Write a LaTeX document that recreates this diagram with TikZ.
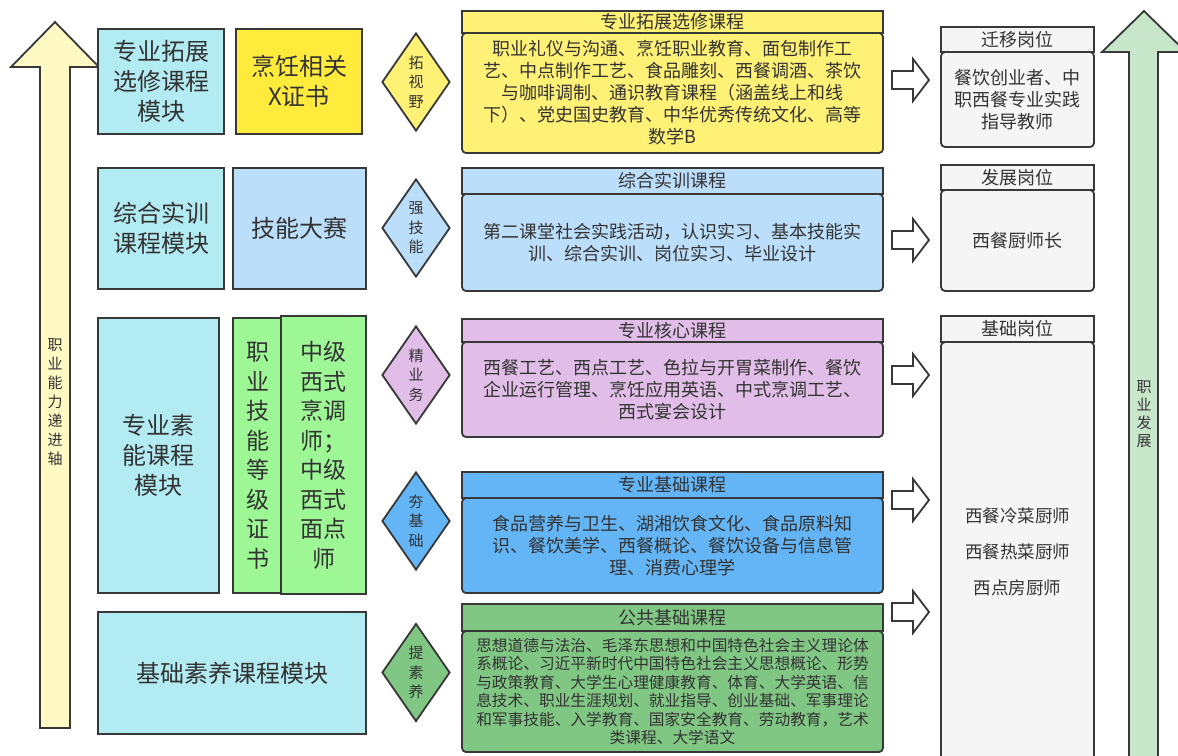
\documentclass[tikz,border=0pt]{standalone}
\usepackage{fontspec}
\setmainfont{Noto Sans CJK SC}
\usetikzlibrary{shapes.geometric}
\definecolor{strokec}{HTML}{383838}
\definecolor{textc}{HTML}{333333}
\definecolor{modc}{HTML}{B2EBF2}
\definecolor{xcert}{HTML}{FFEB3B}
\definecolor{yelc}{HTML}{FFF176}
\definecolor{bluec}{HTML}{BBDEFB}
\definecolor{greenc}{HTML}{9CF794}
\definecolor{purc}{HTML}{E1BEE7}
\definecolor{midblue}{HTML}{64B5F6}
\definecolor{midgreen}{HTML}{81C784}
\definecolor{postc}{HTML}{F5F5F5}
\definecolor{leftarr}{HTML}{FFF9C4}
\definecolor{rightarr}{HTML}{C8E6C9}
\newcommand\myfs[2]{\fontsize{#1}{#2}\selectfont}
\newcommand\hollowarr[1]{\draw[arrowline] (892,#1-9) -- (913,#1-9) -- (913,#1-21) -- (929,#1) -- (913,#1+21) -- (913,#1+9) -- (892,#1+9) -- cycle;}
\tikzset{
  base/.style={draw=strokec, line width=1.8pt, inner sep=0pt, text=textc, align=center},
  modbox/.style={base, rectangle, fill=modc, font=\myfs{24}{30}},
  certbox/.style={base, rectangle, font=\myfs{24}{30}},
  dia/.style={base, diamond, aspect=0.7, minimum width=68pt, minimum height=98pt, font=\myfs{15}{19.5}},
  headbox/.style={base, rectangle, minimum width=421pt, font=\myfs{18}{22}},
  bodybox/.style={base, rectangle, rounded corners=4pt, minimum width=421pt, font=\myfs{18}{22}},
  posthead/.style={base, rectangle, fill=postc, minimum width=153pt, font=\myfs{18}{22}},
  postbody/.style={base, rectangle, rounded corners=4pt, fill=postc, minimum width=153pt, font=\myfs{18}{21.7}},
  arrowline/.style={draw=strokec, line width=1.8pt, fill=white, line join=miter},
  bigarrow/.style={draw=strokec, line width=1.8pt, line join=miter},
  axislabel/.style={text=textc, align=center, inner sep=0pt, font=\myfs{15}{19}}
}
\begin{document}
\begin{tikzpicture}[x=1pt,y=-1pt]
\useasboundingbox (0,0) rectangle (1178,755);
\clip (0,0) rectangle (1178,755);
\fill[white] (0,0) rectangle (1178,755);

% left axis arrow
\draw[bigarrow, fill=leftarr] (40,728) -- (40,67) -- (11,67) -- (55,22) -- (99,67) -- (70,67) -- (70,728) -- cycle;
\node[axislabel] (leftlab) at (55,402) {职\\业\\能\\力\\递\\进\\轴};

% right axis arrow
\draw[bigarrow, fill=rightarr] (1129,800) -- (1129,52) -- (1102,52) -- (1144,11) -- (1186,52) -- (1158,52) -- (1158,800) -- cycle;
\node[axislabel, font=\myfs{15}{18}] (rightlab) at (1144,414) {职\\业\\发\\展};

% modules
\node[modbox, minimum width=126pt, minimum height=105pt] (mod1) at (161,81.5) {专业拓展\\选修课程\\模块};
\node[certbox, fill=xcert, minimum width=126pt, minimum height=105pt] (cert1) at (299,81.5) {烹饪相关\\X证书};
\node[dia, fill=yelc] (dia1) at (416,82) {拓\\视\\野};

\node[modbox, minimum width=126pt, minimum height=121pt] (mod2) at (161,228.5) {综合实训\\课程模块};
\node[certbox, fill=bluec, minimum width=133pt, minimum height=121pt] (cert2) at (299.5,228.5) {技能大赛};
\node[dia, fill=bluec] (dia2) at (416,228) {强\\技\\能};

\node[modbox, minimum width=121pt, minimum height=275pt] (mod3) at (158.5,455.5) {专业素\\能课程\\模块};
\node[certbox, fill=greenc, minimum width=50pt, minimum height=275pt, font=\myfs{23}{29.5}] (cert3a) at (258,455.5) {职\\业\\技\\能\\等\\级\\证\\书};
\node[certbox, fill=greenc, minimum width=85pt, minimum height=278pt, font=\myfs{23}{29.5}] (cert3b) at (323.5,455) {中级\\西式\\烹调\\师；\\中级\\西式\\面点\\师};
\node[dia, fill=purc] (dia3) at (416,375) {精\\业\\务};
\node[dia, fill=midblue] (dia4) at (416,521) {夯\\基\\础};

\node[modbox, minimum width=268pt, minimum height=122pt] (mod4) at (232,673) {基础素养课程模块};
\node[dia, fill=midgreen] (dia5) at (416,672.5) {提\\素\\养};

% course column
\node[headbox, fill=yelc, minimum height=22pt] (h1) at (672.5,22) {\raisebox{-2pt}{专业拓展选修课程}};
\node[bodybox, fill=yelc, minimum height=120pt] (b1) at (672.5,93) {职业礼仪与沟通、烹饪职业教育、面包制作工\\艺、中点制作工艺、食品雕刻、西餐调酒、茶饮\\与咖啡调制、通识教育课程（涵盖线上和线\\下）、党史国史教育、中华优秀传统文化、高等\\数学B};

\node[headbox, fill=bluec, minimum height=26pt] (h2) at (672.5,181) {综合实训课程};
\node[bodybox, fill=bluec, minimum height=97pt] (b2) at (672.5,242.5) {第二课堂社会实践活动，认识实习、基本技能实\\训、综合实训、岗位实习、毕业设计};

\node[headbox, fill=purc, minimum height=23pt] (h3) at (672.5,330.5) {\raisebox{-2pt}{专业核心课程}};
\node[bodybox, fill=purc, minimum height=95pt] (b3) at (672.5,389.5) {西餐工艺、西点工艺、色拉与开胃菜制作、餐饮\\企业运行管理、烹饪应用英语、中式烹调工艺、\\西式宴会设计};

\node[headbox, fill=midblue, minimum height=26pt] (h4) at (672.5,485) {专业基础课程};
\node[bodybox, fill=midblue, minimum height=95pt] (b4) at (672.5,545.5) {食品营养与卫生、湖湘饮食文化、食品原料知\\识、餐饮美学、西餐概论、餐饮设备与信息管\\理、消费心理学};

\node[headbox, fill=midgreen, minimum height=27pt] (h5) at (672.5,617.5) {公共基础课程};
\node[bodybox, fill=midgreen, minimum height=121pt, font=\myfs{15.7}{18.5}] (b5) at (672.5,691.5) {思想道德与法治、毛泽东思想和中国特色社会主义理论体\\系概论、习近平新时代中国特色社会主义思想概论、形势\\与政策教育、大学生心理健康教育、体育、大学英语、信\\息技术、职业生涯规划、就业指导、创业基础、军事理论\\和军事技能、入学教育、国家安全教育、劳动教育，艺术\\类课程、大学语文};

% hollow arrows
\hollowarr{80}
\hollowarr{240}
\hollowarr{375}
\hollowarr{500}
\hollowarr{612}

% posts column
\node[posthead, minimum height=25pt] (ph1) at (1017.5,39.5) {迁移岗位};
\node[postbody, minimum height=95pt] (pb1) at (1017.5,99.5) {餐饮创业者、中\\职西餐专业实践\\指导教师};
\node[posthead, minimum height=25pt] (ph2) at (1017.5,177.5) {发展岗位};
\node[postbody, minimum height=101pt] (pb2) at (1017.5,240.5) {西餐厨师长};
\node[posthead, minimum height=26pt] (ph3) at (1017.5,329) {基础岗位};
\node[postbody, minimum height=433pt] (pb3) at (1017.5,558.5) {};
\node[text=textc, align=center, inner sep=0pt, font=\myfs{17.5}{36}] (pb3text) at (1017.5,552) {西餐冷菜厨师\\西餐热菜厨师\\西点房厨师};
\end{tikzpicture}
\end{document}
